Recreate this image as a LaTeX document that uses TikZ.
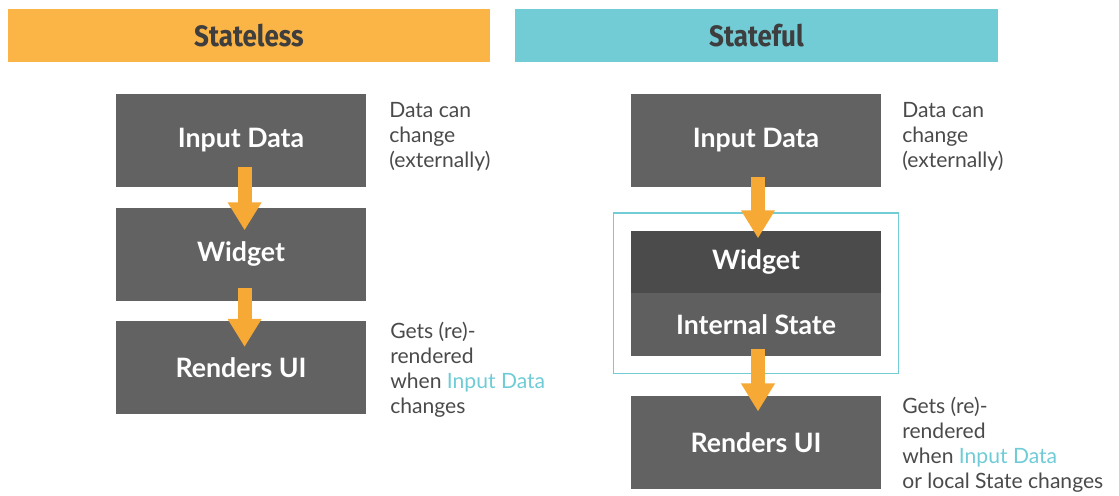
\documentclass[tikz,border=0pt]{standalone}
\usepackage{fontspec}
\setmainfont{Lato}
\newfontfamily\headfont[FakeStretch=0.88]{Fira Sans}
\usetikzlibrary{positioning,fit,arrows.meta}
\definecolor{barorange}{HTML}{FBB546}
\definecolor{barteal}{HTML}{72CCD6}
\definecolor{headgrey}{HTML}{3E3E3E}
\definecolor{boxgrey}{HTML}{626262}
\definecolor{widgetgrey}{HTML}{4B4B4B}
\definecolor{stategrey}{HTML}{5F5F5F}
\definecolor{arroworange}{HTML}{F6A935}
\definecolor{notegrey}{HTML}{4A4A4A}
\definecolor{hilite}{HTML}{6FCCD6}
\begin{document}
\begin{tikzpicture}[x=0.025cm, y=-0.025cm, node distance=0.5cm]
\tikzstyle{header} = [rectangle, minimum width=12.05cm, minimum height=1.325cm, inner sep=0, text=headgrey, font=\headfont\bfseries\fontsize{21}{24}\selectfont]
\tikzstyle{block} = [rectangle, minimum width=6.25cm, minimum height=2.325cm, inner sep=0, fill=boxgrey, text=white, font=\bfseries\fontsize{19}{23}\selectfont]
\tikzstyle{half} = [block, minimum height=1.55cm]
\tikzstyle{note} = [align=left, anchor=north west, inner sep=0, text=notegrey, font=\fontsize{15}{17.8}\selectfont]
\tikzstyle{fat} = [draw=arroworange, line width=0.35cm, -{Triangle[length=0.7cm, width=0.8cm, fill=arroworange]}]
\useasboundingbox (0,0) rectangle (1119,495);
% headers
\node (hless)[header, fill=barorange] at (249,35.5) {Stateless};
\node (hful)[header, fill=barteal] at (756.5,35.5) {Stateful};
% stateless column
\node (ldata)[block] at (241,140.5) {Input Data};
\node (lwidget)[block, below=of ldata] {Widget};
\node (lui)[block, below=of lwidget] {Renders UI};
\draw [fat] ([xshift=0.09cm, yshift=0.5cm]ldata.south) -- ([xshift=0.09cm, yshift=-0.575cm]lwidget.north);
\draw [fat] ([xshift=0.09cm, yshift=0.325cm]lwidget.south) -- ([xshift=0.09cm, yshift=-0.65cm]lui.north);
\node (lnote1)[note] at (389,102) {Data can\\change\\(externally)};
\node (lnote2)[note] at (390,322) {Gets (re)-\\rendered\\when {\color{hilite}Input Data}\\changes};
% stateful column
\node (rdata)[block] at (756,140.5) {Input Data};
\node (rwidget)[half, fill=widgetgrey, below=1.075cm of rdata] {Widget};
\node (rstate)[half, fill=stategrey, minimum height=1.575cm, below=0cm of rwidget] {Internal State};
\node (frame)[draw=barteal, line width=0.9pt, inner sep=0.43cm, fit=(rwidget)(rstate)] {};
\node (rui)[block, below=0.975cm of rstate] {Renders UI};
\draw [fat] ([xshift=0.05cm, yshift=0.25cm]rdata.south) -- ([xshift=0.05cm, yshift=-0.2cm]rwidget.north);
\draw [fat] ([xshift=0.05cm, yshift=0.175cm]rstate.south) -- ([xshift=0.05cm, yshift=-0.4cm]rui.north);
\node (rnote1)[note] at (902,102) {Data can\\change\\(externally)};
\node (rnote2)[note] at (902,397) {Gets (re)-\\rendered\\when {\color{hilite}Input Data}\\or local State changes};
\end{tikzpicture}
\end{document}
